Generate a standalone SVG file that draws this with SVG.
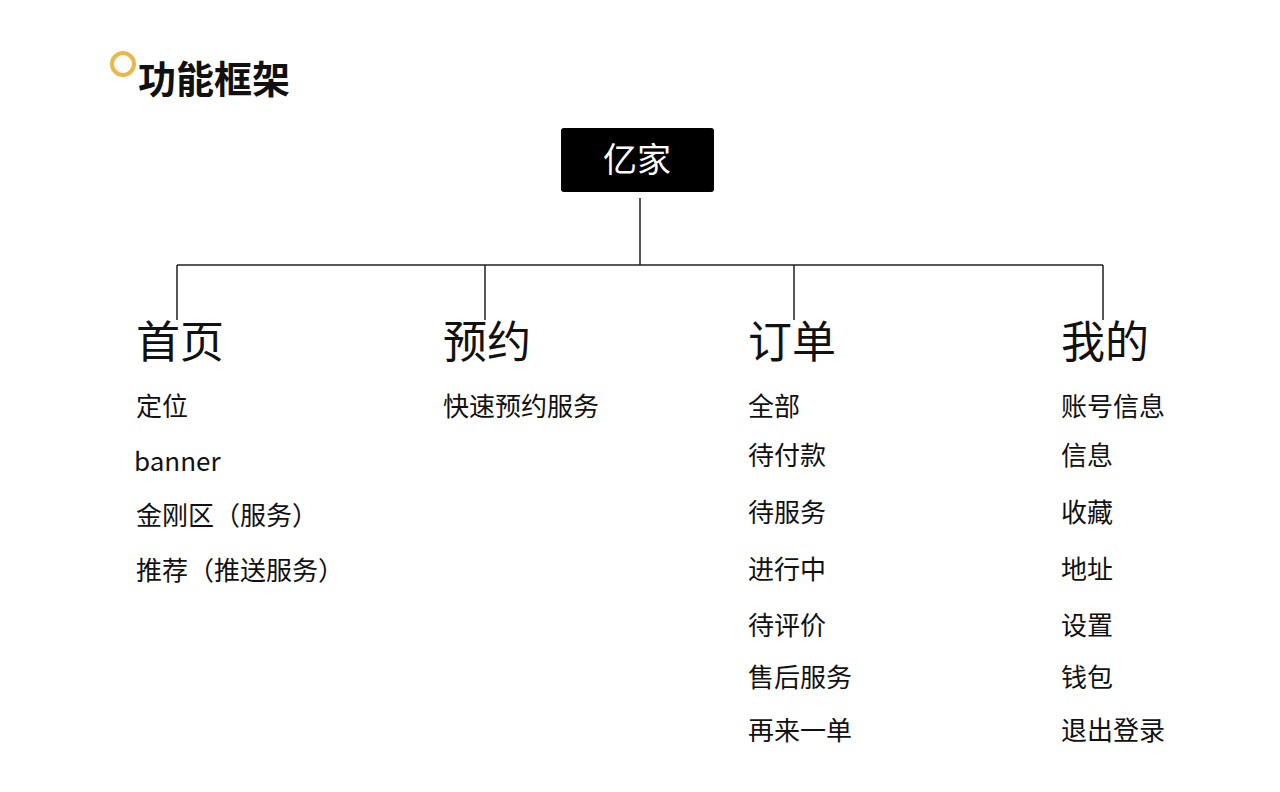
<svg xmlns="http://www.w3.org/2000/svg" width="1280" height="792" viewBox="0 0 1280 792">
<style>
text{font-family:"Noto Sans CJK SC","Noto Sans",sans-serif;fill:#111}
.h{font-size:44px}
.i{font-size:26px}
.l{stroke:#222;stroke-width:1.5;fill:none}
</style>
<rect width="1280" height="792" fill="#fff"/>
<circle cx="123" cy="64" r="11" fill="none" stroke="#E8B84A" stroke-width="4"/>
<text x="138" y="93" style="font-size:38px;font-weight:bold">功能框架</text>
<g id="root"><rect x="561" y="128" width="153" height="64" rx="3" fill="#000"/>
<text x="637" y="172" text-anchor="middle" style="font-size:34px;fill:#fff">亿家</text></g>
<g id="connectors">
<path class="l" d="M640 198V265M177 265H1103M177 265V320M485 265V320M794 265V320M1103 265V320"/>
</g>
<g id="home"><text class="h" x="136" y="358">首页</text>
<text class="i" x="136" y="416">定位</text><text class="i" x="134" y="471">banner</text>
<text class="i" x="136" y="525">金刚区（服务）</text><text class="i" x="136" y="580">推荐（推送服务）</text></g>
<g id="booking"><text class="h" x="443" y="358">预约</text><text class="i" x="443" y="416">快速预约服务</text></g>
<g id="order"><text class="h" x="748" y="358">订单</text>
<text class="i" x="748" y="416">全部</text><text class="i" x="748" y="465">待付款</text><text class="i" x="748" y="522">待服务</text><text class="i" x="748" y="579">进行中</text><text class="i" x="748" y="635">待评价</text><text class="i" x="748" y="687">售后服务</text><text class="i" x="748" y="740">再来一单</text></g>
<g id="mine"><text class="h" x="1061" y="358">我的</text>
<text class="i" x="1061" y="416">账号信息</text><text class="i" x="1061" y="465">信息</text><text class="i" x="1061" y="522">收藏</text><text class="i" x="1061" y="579">地址</text><text class="i" x="1061" y="635">设置</text><text class="i" x="1061" y="687">钱包</text><text class="i" x="1061" y="740">退出登录</text></g>
</svg>
